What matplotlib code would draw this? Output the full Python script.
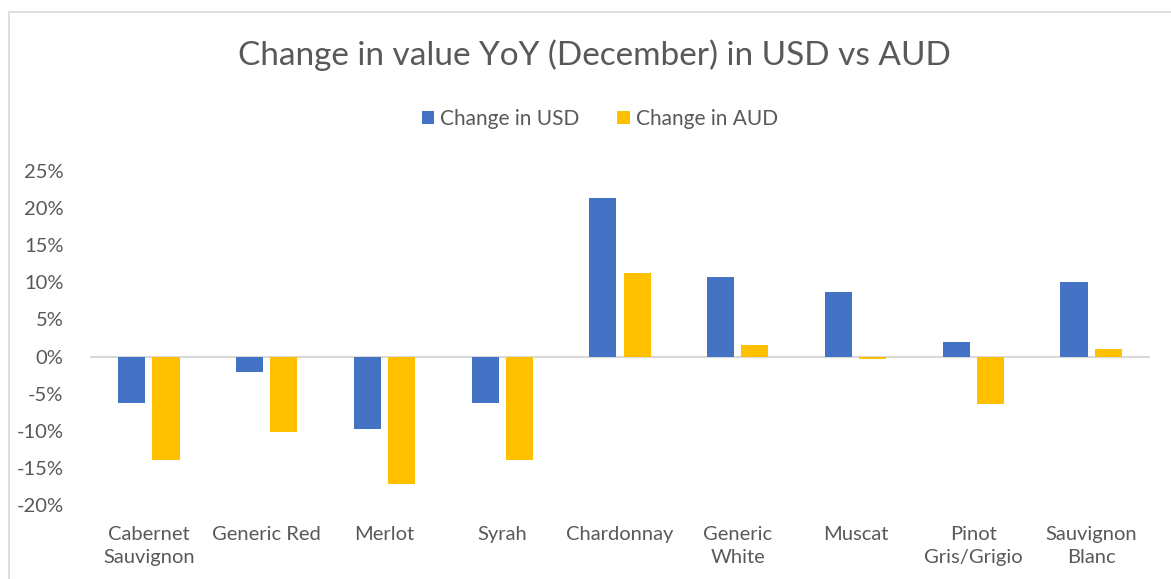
import matplotlib
matplotlib.use("Agg")
import matplotlib.pyplot as plt
import numpy as np
from matplotlib.patches import Rectangle
from matplotlib.ticker import FuncFormatter

categories = ["Cabernet\nSauvignon", "Generic Red", "Merlot", "Syrah", "Chardonnay",
              "Generic\nWhite", "Muscat", "Pinot\nGris/Grigio", "Sauvignon\nBlanc"]
change_usd = [-6.2, -2.1, -9.7, -6.2, 21.3, 10.7, 8.7, 2.0, 10.1]
change_aud = [-14.0, -10.2, -17.2, -14.0, 11.3, 1.6, -0.3, -6.4, 1.0]
yticks = [-20, -15, -10, -5, 0, 5, 10, 15, 20, 25]

plt.rcParams['font.family'] = ['Lato', 'DejaVu Sans']
txt = '#595959'
W, H = 1171, 579
fig = plt.figure(figsize=(W/100, H/100), dpi=100)
fig.patches.append(Rectangle((9/W, -0.1), 1.2, 1.1 - 12/H, transform=fig.transFigure,
                             fill=False, edgecolor='#d9d9d9', linewidth=1.2))

ax = fig.add_axes([90/W, (H-505)/H, (1150-90)/W, (505-171)/H])
x = np.arange(len(categories))
w = 0.23
off = 0.145
ax.bar(x - off, change_usd, w, color='#4472c4', label='Change in USD', zorder=3)
ax.bar(x + off, change_aud, w, color='#ffc000', label='Change in AUD', zorder=3)
ax.axhline(0, color='#d9d9d9', linewidth=1.5, zorder=2)
ax.set_xlim(-0.5, len(categories) - 0.5)
ax.set_ylim(-20, 25)
ax.set_yticks(yticks)
ax.yaxis.set_major_formatter(FuncFormatter(lambda v, p: f"{int(v)}%"))
ax.set_xticks(x)
ax.set_xticklabels(categories)
for s in ax.spines.values():
    s.set_visible(False)
ax.tick_params(axis='both', length=0, colors=txt, labelsize=14.5)
ax.tick_params(axis='y', pad=19)
ax.tick_params(axis='x', pad=15)
for lab in ax.get_xticklabels():
    lab.set_linespacing(1.45)
    lab.set_verticalalignment('top')

fig.text(594/W, 1 - 55/H, "Change in value YoY (December) in USD vs AUD", ha='center', va='center',
         fontsize=24, color=txt)
fig.legend(loc='center', bbox_to_anchor=(600/W, 1 - 119/H), ncol=2, frameon=False,
           fontsize=15, labelcolor=txt, handlelength=0.6, handleheight=0.6,
           handletextpad=0.3, columnspacing=1.8)

fig.savefig("out.png", dpi=100)
